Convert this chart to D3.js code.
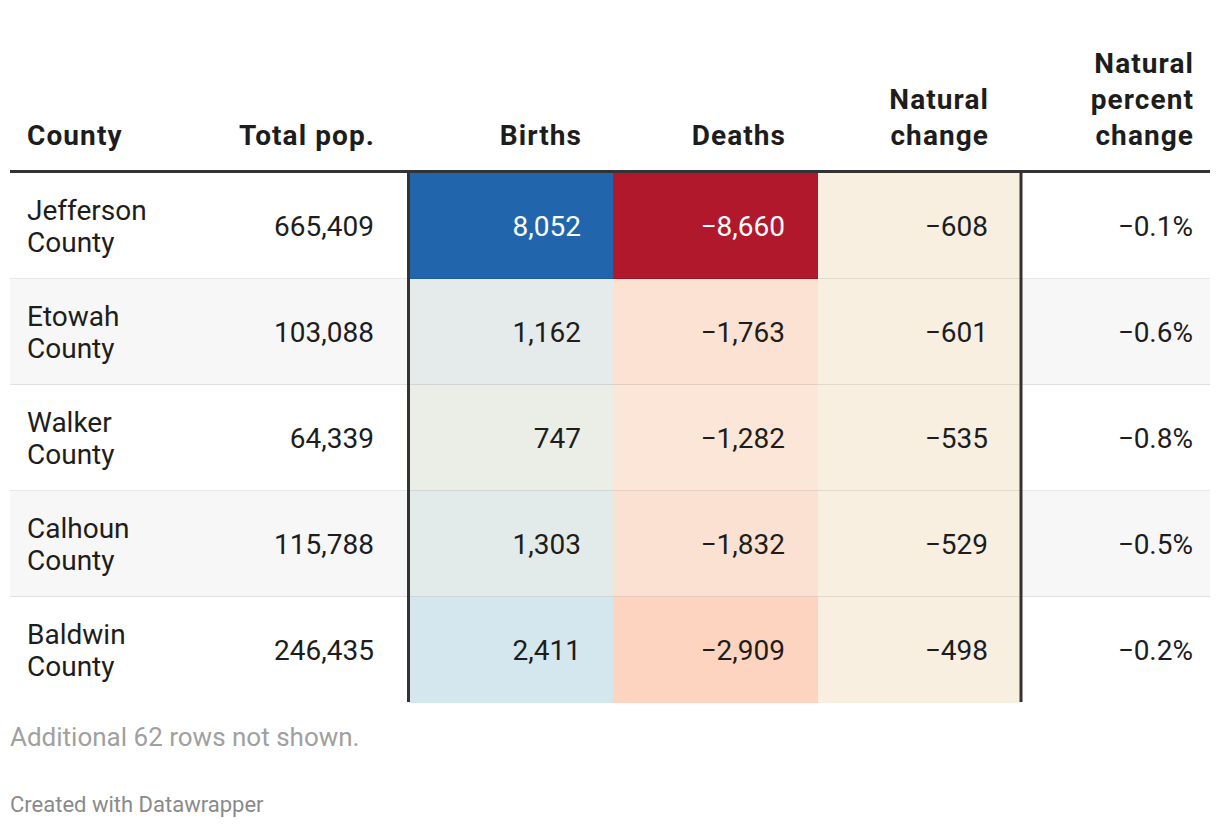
<!DOCTYPE html>
<html>
<head>
<meta charset="utf-8">
<script src="https://cdn.jsdelivr.net/npm/d3@7"></script>
<style>
  html, body { margin: 0; padding: 0; background: #fff; }
  svg { display: block; font-family: Roboto, "Noto Sans", sans-serif; }
</style>
</head>
<body>
<svg id="chart" width="1220" height="828"></svg>
<script>
// ---- data ----
const counties = ["Jefferson County", "Etowah County", "Walker County", "Calhoun County", "Baldwin County"];
const totalPop = [665409, 103088, 64339, 115788, 246435];
const births = [8052, 1162, 747, 1303, 2411];
const deaths = [-8660, -1763, -1282, -1832, -2909];
const naturalChange = [-608, -601, -535, -529, -498];
const naturalPctChange = [-0.1, -0.6, -0.8, -0.5, -0.2];
const headers = [["County"], ["Total pop."], ["Births"], ["Deaths"], ["Natural", "change"], ["Natural", "percent", "change"]];
const footnote = "Additional 62 rows not shown.";
const credit = "Created with Datawrapper";

// ---- layout ----
const W = 1220, H = 828;
const left = 10, right = 1210;
const headerBottom = 171.5;
const tableTop = 173, tableBottom = 703;
const colEdges = [10, 215, 409, 613, 818, 1021, 1210];
const fontSize = 28;

const svg = d3.select("#chart");

const rows = d3.range(counties.length);
const y = d3.scaleBand().domain(rows).range([tableTop, tableBottom]);

// diverging colour scale for births / deaths
const color = d3.scaleLinear()
  .domain([-8660, -2900, -1500, 0, 1000, 2400, 8052])
  .range(["#b2182b", "#fdd4bf", "#fbe5d6", "#f8efe1", "#e7ece9", "#d4e7ee", "#2166ac"])
  .interpolate(d3.interpolateRgb)
  .clamp(true);
const naturalFill = "#f8efe1";

const fmtInt = v => d3.format(",")(v).replace("-", "\u2212");
const fmtPct = v => d3.format(".1f")(v).replace("-", "\u2212") + "%";

const columns = [
  { key: "county", values: counties, align: "start", fmt: d => d },
  { key: "pop", values: totalPop, align: "end", fmt: fmtInt, fill: null },
  { key: "births", values: births, align: "end", fmt: fmtInt, fill: v => color(v) },
  { key: "deaths", values: deaths, align: "end", fmt: fmtInt, fill: v => color(v) },
  { key: "nat", values: naturalChange, align: "end", fmt: fmtInt, fill: () => naturalFill },
  { key: "pct", values: naturalPctChange, align: "end", fmt: fmtPct, fill: null }
];
const padRight = [0, 35, 32, 33, 33, 17];
const padLeft = 17;

// row backgrounds (zebra)
svg.append("g").selectAll("rect").data(rows).join("rect")
  .attr("x", left).attr("width", right - left)
  .attr("y", d => y(d)).attr("height", y.bandwidth())
  .attr("fill", d => d % 2 === 1 ? "#f7f7f7" : "#ffffff");

// coloured cells
columns.forEach((c, ci) => {
  if (!c.fill) return;
  svg.append("g").selectAll("rect").data(rows).join("rect")
    .attr("x", colEdges[ci]).attr("width", colEdges[ci + 1] - colEdges[ci])
    .attr("y", d => y(d)).attr("height", y.bandwidth())
    .attr("fill", d => c.fill(c.values[d]));
});

// row separators
svg.append("g").selectAll("line").data(rows.slice(1)).join("line")
  .attr("x1", left).attr("x2", right)
  .attr("y1", d => y(d) - 0.5).attr("y2", d => y(d) - 0.5)
  .attr("stroke", "rgba(0,0,0,0.09)").attr("stroke-width", 1);

// cell text
const lineH = 32;
columns.forEach((c, ci) => {
  const g = svg.append("g");
  rows.forEach(r => {
    const cy = y(r) + y.bandwidth() / 2;
    const txt = String(c.fmt(c.values[r]));
    const x = c.align === "start" ? colEdges[ci] + padLeft : colEdges[ci + 1] - padRight[ci];
    const isDark = (c.key === "births" || c.key === "deaths") && Math.abs(c.values[r]) > 6000;
    const lines = c.key === "county" ? txt.split(" ") : [txt];
    const t = g.append("text")
      .attr("x", x)
      .attr("text-anchor", c.align)
      .attr("font-size", fontSize)
      .attr("fill", isDark ? "#ffffff" : "#1d1d1d");
    lines.forEach((ln, i) => {
      t.append("tspan").attr("x", x)
        .attr("y", cy + (i - (lines.length - 1) / 2) * lineH + fontSize * 0.36)
        .text(ln);
    });
  });
});

// thick vertical borders around the coloured block
svg.append("g").selectAll("line").data([colEdges[2] - 0.5, colEdges[5]]).join("line")
  .attr("x1", d => d).attr("x2", d => d)
  .attr("y1", tableTop).attr("y2", tableBottom - 1)
  .attr("stroke", "#333").attr("stroke-width", 3);

// header
const hdr = svg.append("g");
const headerLastBaseline = 145;
const headerLineH = 36;
headers.forEach((lines, ci) => {
  const c = columns[ci];
  const x = c.align === "start" ? colEdges[ci] + padLeft : colEdges[ci + 1] - padRight[ci];
  const t = hdr.append("text")
    .attr("text-anchor", c.align)
    .attr("font-size", fontSize)
    .attr("font-weight", 700)
    .attr("letter-spacing", "1.1px")
    .attr("fill", "#1d1d1d");
  lines.forEach((ln, i) => {
    t.append("tspan").attr("x", x + (c.align === "end" ? 1.1 : 0))
      .attr("y", headerLastBaseline - (lines.length - 1 - i) * headerLineH)
      .text(ln);
  });
});
svg.append("line")
  .attr("x1", left).attr("x2", right)
  .attr("y1", headerBottom).attr("y2", headerBottom)
  .attr("stroke", "#333").attr("stroke-width", 3);

// footer
svg.append("text").attr("x", 10).attr("y", 746)
  .attr("font-size", 26).attr("fill", "#a0a0a0").text(footnote);
svg.append("text").attr("x", 10).attr("y", 812)
  .attr("font-size", 22).attr("fill", "#8a8a8a").text(credit);
</script>
</body>
</html>
